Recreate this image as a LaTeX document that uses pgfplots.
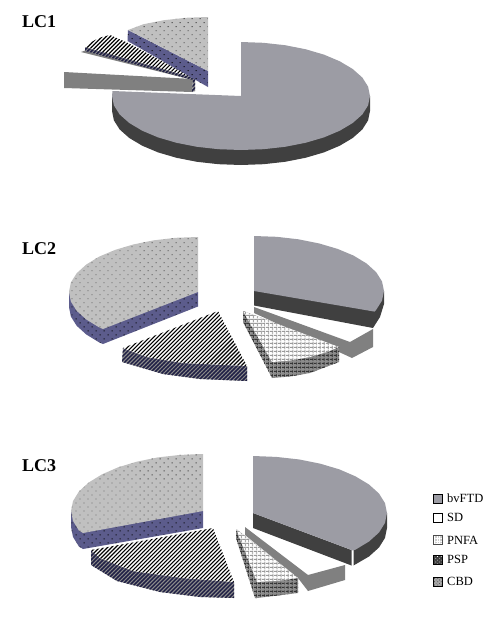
\documentclass[border=0pt]{standalone}
\usepackage{fontspec}
\setmainfont{Liberation Serif}
\usepackage{pgfplots}
\pgfplotsset{compat=1.18}
\usetikzlibrary{patterns.meta}
\definecolor{bvtop}{HTML}{9C9CA4}
\definecolor{bvside}{HTML}{404040}
\definecolor{sdside}{HTML}{808080}
\definecolor{cbdtop}{HTML}{C0C0C0}
\definecolor{cbdside}{HTML}{5C5C8C}
\definecolor{pspside}{HTML}{1E1E44}
\tikzset{
  bvT/.style={fill=bvtop,draw=none},
  bvS/.style={fill=bvside,draw=none},
  sdS/.style={fill=sdside,draw=none},
  cbdT/.style={fill=cbdtop,draw=none,postaction={pattern={Dots[distance=5.66pt,radius=0.6pt,angle=45]},pattern color=black!80}},
  cbdS/.style={fill=cbdside,draw=none,postaction={pattern={Dots[distance=5.66pt,radius=0.65pt,angle=45]},pattern color=black}},
  pspT/.style={fill=white,draw=none,postaction={pattern={Lines[angle=45,distance=2.83pt,line width=1.1pt]},pattern color=black}},
  pspS/.style={fill=black!45,draw=none,postaction={pattern={Lines[angle=45,distance=2.83pt,line width=1.5pt]},pattern color=pspside}},
  pnT/.style={fill=white,draw=none,postaction={pattern={Lines[angle=0,distance=4pt,line width=1pt]},pattern color=black!40},postaction={pattern={Lines[angle=90,distance=4pt,line width=1pt]},pattern color=black!40}},
  pnS/.style={fill=black!45,draw=none,postaction={pattern={Lines[angle=0,distance=4pt,line width=1.1pt]},pattern color=black!80},postaction={pattern={Lines[angle=90,distance=4pt,line width=1.1pt]},pattern color=black!80}},
}
\begin{document}
\begin{tikzpicture}
\useasboundingbox (0,0) rectangle (501pt,619pt);
\begin{axis}[at={(0,0)},anchor=south west,hide axis,scale only axis,width=501pt,height=619pt,xmin=0,xmax=501,ymin=0,ymax=619,y dir=reverse,enlargelimits=false]
% ---- LC1
\addplot[bvS] coordinates {(370,96)(370,111)(368.1,120.4)(362.3,129.5)(352.7,138)(339.8,145.7)(323.9,152.4)(305.5,157.8)(285.1,161.8)(263.4,164.2)(241,165)(218.6,164.2)(196.9,161.8)(176.5,157.8)(158.1,152.4)(142.2,145.7)(129.3,138)(119.7,129.5)(113.9,120.4)(112,111)(112,96)};
\addplot[bvT] coordinates {(241,42)(263.4,42.8)(285.1,45.2)(305.5,49.2)(323.9,54.6)(339.8,61.3)(352.7,69)(362.3,77.5)(368.1,86.6)(370,96)(368.1,105.4)(362.3,114.5)(352.7,123)(339.8,130.7)(323.9,137.4)(305.5,142.8)(285.1,146.8)(263.4,149.2)(241,150)(218.6,149.2)(196.9,146.8)(176.5,142.8)(158.1,137.4)(142.2,130.7)(129.3,123)(119.7,114.5)(113.9,105.4)(112,96)(112.5,91)(241,96)};
\addplot[sdS] coordinates {(64,72)(193,79)(192,92)(64,88)};
\addplot[sdS] coordinates {(81,52)(85,50.5)(193,78)(193,80)};
\addplot[pspS] coordinates {(85,47)(193,76)(195,78)(195,91)(192,92)(193,80)(85,51)};
\addplot[pspT] coordinates {(193,77.5)(85,47)(90,43)(95,40)(102,37)(110,35)(128,43)};
\addplot[cbdS] coordinates {(128,30)(127.5,41)(208,87)(208,71)};
\addplot[cbdT] coordinates {(208,17)(185.6,17.8)(163.9,20.2)(143.5,24.2)(128,30)(208,71)};
% ---- LC2
\addplot[bvS] coordinates {(254,291)(254,305.5)(373,328)(380,317)(384,304)(384,291)};
\addplot[bvT] coordinates {(254,236)(276.6,236.8)(298.5,239.3)(319,243.4)(337.6,248.9)(353.6,255.6)(366.6,263.5)(376.2,272.2)(382,281.4)(384,291)(382,300.6)(376.2,309.8)(374.5,311.6)(254,291)};
\addplot[sdS] coordinates {(254,307)(350,342)(373,329)(373,347)(352,358)(339,352)(254,313)};
\addplot[pnS] coordinates {(243,311)(243,322)(272,378)(290,376.5)(310,373)(339,362)(339,347)};
\addplot[pnT] coordinates {(243,311)(339,347)(327,352)(310,357)(290,360.5)(272,362)};
\addplot[pspS] coordinates {(123,348)(122,362)(163,374)(200,379)(247,381)(247,366)(183,363)(147,357)};
\addplot[pspT] coordinates {(218,311)(247,366)(183,363)(147,357)(123,348)};
\addplot[cbdS] coordinates {(198,292)(198,306.5)(103,344)(99.2,342.4)(86.3,334.5)(76.7,325.8)(70.9,316.6)(69,307)(69,292)};
\addplot[cbdT] coordinates {(198,237)(175.6,237.8)(153.9,240.3)(133.5,244.4)(115.1,249.9)(99.2,256.6)(86.3,264.5)(76.7,273.2)(70.9,282.4)(69,292)(70.9,301.6)(76.7,310.8)(86.3,319.5)(99.2,327.4)(103,329)(198,292)};
% ---- LC3
\addplot[bvS] coordinates {(253,513)(253,528)(351.5,565.5)(351.5,550)};
\addplot[bvS] coordinates {(353.5,549)(353.5,565.5)(369,556.5)(379,547.5)(385,537.9)(387,528)(387,513)};
\addplot[bvT] coordinates {(253,456)(276.3,456.9)(298.8,459.4)(320,463.6)(339.2,469.3)(355.6,476.4)(369,484.5)(379,493.5)(385,503.1)(387,513)(385,522.9)(379,532.5)(369,541.5)(355.6,549.6)(353,550.5)(253,513)};
\addplot[sdS] coordinates {(245,527)(308,575)(345,565)(345,580)(308,591)(298,578)(245,535)};
\addplot[pnS] coordinates {(236,529)(236,538)(255,598)(257,598)(298,593)(298,578)};
\addplot[pnT] coordinates {(236,529)(298,578)(280,580.5)(257,582)};
\addplot[pspS] coordinates {(91,550)(91,565)(117,581)(160,592)(200,597)(234,598)(234,582)(183,578)(133,571)(100,558)};
\addplot[pspT] coordinates {(213,528)(234,582)(183,578)(133,571)(100,558)(91,550)};
\addplot[cbdS] coordinates {(203,511)(203,528)(83,549)(78.9,546.5)(73,536.9)(71,527)(71,511)};
\addplot[cbdT] coordinates {(203,454)(180,454.9)(157.9,457.4)(137,461.6)(118.1,467.3)(101.9,474.4)(88.7,482.5)(78.9,491.5)(73,501.1)(71,511)(73,520.9)(78.9,530.5)(83,533)(203,511)};
% ---- legend swatches
\addplot[fill=bvtop,draw=black,line width=0.7pt] coordinates {(433,494)(442,494)(442,503)(433,503)} --cycle;
\addplot[fill=white,draw=black,line width=0.7pt] coordinates {(433,513)(442,513)(442,522)(433,522)} --cycle;
\addplot[fill=black!20,draw=black!70,line width=0.7pt,postaction={pattern={Lines[angle=0,distance=2.6pt,line width=0.6pt]},pattern color=white},postaction={pattern={Lines[angle=90,distance=2.6pt,line width=0.6pt]},pattern color=white}] coordinates {(433,535)(442,535)(442,544)(433,544)} --cycle;
\addplot[fill=black!75,draw=black,line width=0.7pt,postaction={pattern={Dots[distance=2.6pt,radius=0.45pt,angle=45]},pattern color=white}] coordinates {(433,555)(442,555)(442,564)(433,564)} --cycle;
\addplot[fill=black!35,draw=black,line width=0.7pt,postaction={pattern={Dots[distance=2.4pt,radius=0.5pt,angle=45]},pattern color=black!80}] coordinates {(433,577)(442,577)(442,586)(433,586)} --cycle;
% ---- text
\node[anchor=west,font=\bfseries\fontsize{18}{18}\selectfont,inner sep=0pt] at (axis cs:22,22) {LC1};
\node[anchor=west,font=\bfseries\fontsize{18}{18}\selectfont,inner sep=0pt] at (axis cs:22,249) {LC2};
\node[anchor=west,font=\bfseries\fontsize{18}{18}\selectfont,inner sep=0pt] at (axis cs:22,466) {LC3};
\node[anchor=west,font=\fontsize{12.5}{13}\selectfont,inner sep=0pt] at (axis cs:447,498) {bvFTD};
\node[anchor=west,font=\fontsize{12.5}{13}\selectfont,inner sep=0pt] at (axis cs:447,517) {SD};
\node[anchor=west,font=\fontsize{12.5}{13}\selectfont,inner sep=0pt] at (axis cs:447,540) {PNFA};
\node[anchor=west,font=\fontsize{12.5}{13}\selectfont,inner sep=0pt] at (axis cs:447,559) {PSP};
\node[anchor=west,font=\fontsize{12.5}{13}\selectfont,inner sep=0pt] at (axis cs:447,581) {CBD};
\end{axis}
\end{tikzpicture}
\end{document}
